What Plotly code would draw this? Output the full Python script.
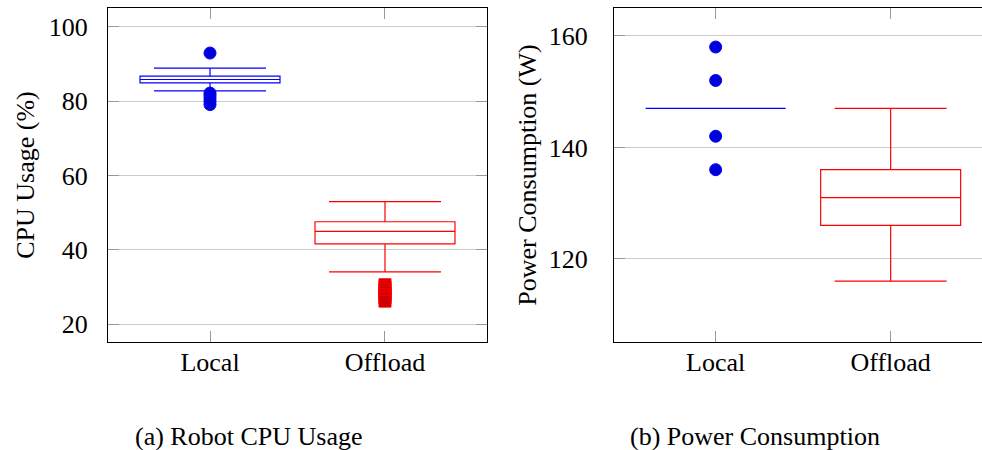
import plotly.graph_objects as go

categories = ["Local", "Offload"]

# (a) Robot CPU Usage (%)
cpu_q1 = [84.97, 41.62]
cpu_median = [85.86, 44.97]
cpu_q3 = [86.76, 47.57]
cpu_lower = [82.81, 34.05]
cpu_upper = [88.92, 52.97]
cpu_local_outliers = [92.97, 82.2, 81.6, 80.8, 80.0, 79.1]
cpu_offload_outliers = [30.6, 30.0, 29.4, 28.7, 28.0, 27.5, 27.0, 26.2]

# (b) Power Consumption (W)
pw_q1 = [147, 126]
pw_median = [147, 131]
pw_q3 = [147, 136]
pw_lower = [147, 116]
pw_upper = [147, 147]
pw_local_outliers = [158, 152, 142, 136]
pw_offload_outliers = []

y_ticks_cpu = [20, 40, 60, 80, 100]
y_ticks_pw = [120, 140, 160]

captions = ["(a) Robot CPU Usage", "(b) Power Consumption"]

colors = ["#0000ff", "#ff0000"]
marker_fill = ["#0000d8", "#cc0000"]
marker_sym = ["circle", "square"]
FONT = "Liberation Serif, Times New Roman, serif"

fig = go.Figure()


def add_panel(xa, ya, q1, med, q3, lo, up, outs):
    for i, cat in enumerate(categories):
        fig.add_trace(go.Box(
            x=[cat], q1=[q1[i]], median=[med[i]], q3=[q3[i]],
            lowerfence=[lo[i]], upperfence=[up[i]],
            width=0.8, whiskerwidth=0.8,
            line=dict(color=colors[i], width=1.2),
            fillcolor="rgba(0,0,0,0)",
            boxpoints=False, showlegend=False, hoverinfo="skip",
            xaxis=xa, yaxis=ya,
        ))
        if outs[i]:
            fig.add_trace(go.Scatter(
                x=[cat] * len(outs[i]), y=outs[i], mode="markers",
                marker=dict(symbol=marker_sym[i], size=12, color=marker_fill[i],
                            line=dict(color=colors[i], width=1)),
                showlegend=False, hoverinfo="skip",
                xaxis=xa, yaxis=ya,
            ))


add_panel("x", "y", cpu_q1, cpu_median, cpu_q3, cpu_lower, cpu_upper,
          [cpu_local_outliers, cpu_offload_outliers])
add_panel("x2", "y2", pw_q1, pw_median, pw_q3, pw_lower, pw_upper,
          [pw_local_outliers, pw_offload_outliers])

W, H = 982, 450
ydom = [(H - 342) / H, (H - 8) / H]

common_x = dict(type="category", categoryorder="array", categoryarray=categories,
                showgrid=False, ticks="inside", ticklen=11, tickcolor="#999999",
                showline=True, linecolor="black", linewidth=1, mirror="ticks",
                tickfont=dict(family=FONT, size=26, color="black"),
                ticklabelstandoff=-3, zeroline=False)
common_y = dict(showgrid=True, gridcolor="#cccccc", gridwidth=1,
                ticks="inside", ticklen=11, tickcolor="#999999",
                showline=True, linecolor="black", linewidth=1,
                tickfont=dict(family=FONT, size=26, color="black"),
                zeroline=False)

fig.update_layout(
    width=W, height=H,
    margin=dict(l=0, r=0, t=0, b=0),
    paper_bgcolor="white", plot_bgcolor="white",
    font=dict(family=FONT, size=26, color="black"),
    xaxis=dict(common_x, domain=[108 / W, 487 / W], range=[-0.583, 1.583], anchor="y"),
    yaxis=dict(common_y, domain=ydom, range=[15.2, 105.1], tickvals=y_ticks_cpu,
               mirror="ticks", anchor="x", ticklabelstandoff=14,
               title=dict(text="CPU Usage (%)", standoff=6,
                          font=dict(family=FONT, size=26))),
    xaxis2=dict(common_x, domain=[614 / W, 1.0], range=[-0.581, 1.522], anchor="y2"),
    yaxis2=dict(common_y, domain=ydom, range=[105.1, 165.0], tickvals=y_ticks_pw,
                mirror=False, anchor="x2", ticklabelstandoff=20,
                title=dict(text="Power Consumption (W)", standoff=4,
                           font=dict(family=FONT, size=26))),
    annotations=[
        dict(text=captions[0], x=249 / W, y=(H - 436) / H, xref="paper", yref="paper",
             xanchor="center", yanchor="middle", showarrow=False,
             font=dict(family=FONT, size=26, color="black")),
        dict(text=captions[1], x=755 / W, y=(H - 436) / H, xref="paper", yref="paper",
             xanchor="center", yanchor="middle", showarrow=False,
             font=dict(family=FONT, size=26, color="black")),
    ],
)

fig.write_html("out.html")
